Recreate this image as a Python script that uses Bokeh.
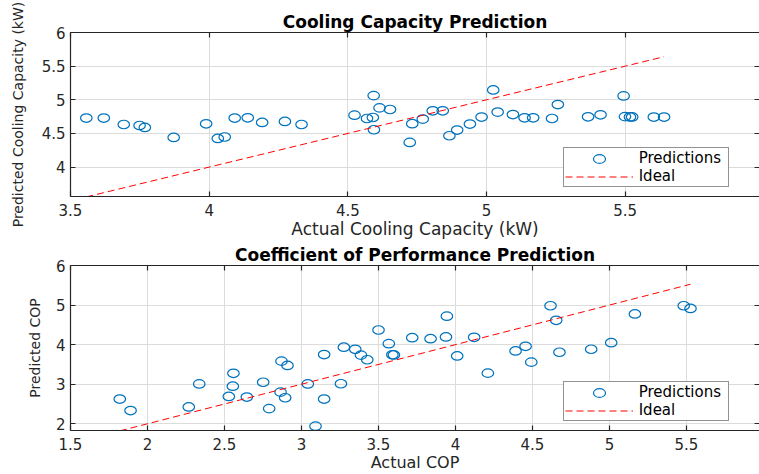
from bokeh.plotting import figure
from bokeh.models import (LinearAxis, FixedTicker, CustomJSTickFormatter, Range1d,
                          Legend, LegendItem, ColumnDataSource)
from bokeh.layouts import column
from bokeh.embed import file_html
from bokeh.resources import INLINE

# ---------------- data ----------------
cc_actual = [3.557, 3.620, 3.692, 3.749, 3.768, 3.872, 3.989, 4.031, 4.056, 4.092,
             4.139, 4.191, 4.273, 4.333, 4.524, 4.569, 4.590, 4.593, 4.594, 4.614,
             4.652, 4.723, 4.732, 4.770, 4.806, 4.842, 4.866, 4.894, 4.940, 4.982,
             5.024, 5.040, 5.095, 5.137, 5.168, 5.236, 5.257, 5.366, 5.411, 5.494,
             5.499, 5.517, 5.525, 5.603, 5.640]
cc_pred = [4.728, 4.728, 4.633, 4.618, 4.589, 4.441, 4.643, 4.426, 4.447, 4.728,
           4.732, 4.663, 4.678, 4.633, 4.772, 4.722, 4.737, 5.062, 4.555, 4.880,
           4.856, 4.367, 4.645, 4.713, 4.836, 4.836, 4.466, 4.550, 4.639, 4.743,
           5.146, 4.817, 4.781, 4.732, 4.732, 4.722, 4.929, 4.747, 4.777, 5.058,
           4.750, 4.745, 4.745, 4.743, 4.743]

cop_actual = [1.820, 1.890, 2.268, 2.336, 2.528, 2.554, 2.558, 2.645, 2.751, 2.790,
              2.864, 2.870, 2.894, 2.909, 3.041, 3.091, 3.147, 3.147, 3.256, 3.275,
              3.349, 3.386, 3.427, 3.500, 3.567, 3.590, 3.600, 3.719, 3.838, 3.938,
              3.944, 4.011, 4.121, 4.210, 4.390, 4.455, 4.492, 4.617, 4.654, 4.675,
              4.881, 5.011, 5.165, 5.482, 5.526]
cop_pred = [2.625, 2.333, 2.425, 3.008, 2.690, 2.950, 3.275, 2.675, 3.050, 2.383,
            2.800, 3.583, 2.658, 3.475, 3.008, 1.940, 3.750, 2.625, 3.012, 3.935,
            3.882, 3.735, 3.618, 4.370, 4.025, 3.745, 3.740, 4.175, 4.150, 4.195,
            4.720, 3.715, 4.185, 3.280, 3.840, 3.958, 3.558, 4.983, 4.615, 3.808,
            3.883, 4.050, 4.775, 4.983, 4.915]

cc_xticks = [3.5, 4, 4.5, 5, 5.5, 6]
cc_yticks = [4, 4.5, 5, 5.5, 6]
cop_xticks = [1.5, 2, 2.5, 3, 3.5, 4, 4.5, 5, 5.5, 6]
cop_yticks = [2, 3, 4, 5, 6]

titles = ["Cooling Capacity Prediction", "Coefficient of Performance Prediction"]
xlabels = ["Actual Cooling Capacity (kW)", "Actual COP"]
ylabels = ["Predicted Cooling Capacity (kW)", "Predicted COP"]
legend_labels = ["Predictions", "Ideal"]

FONT = "DejaVu Sans"
AX = "#262626"
BLUE = "#0072BD"
RED = "#FF0000"
GRID = "#dcdcdc"


def fmt():
    return CustomJSTickFormatter(code="return tick.toString();")


def make(title, xlabel, ylabel, actual, pred, xr, yr, xt, yt, height, top, bottom,
         ylab_standoff, xlab_size):
    p = figure(width=759, height=height, output_backend="svg", toolbar_location=None,
               x_range=Range1d(*xr), y_range=Range1d(*yr),
               min_border_left=70, min_border_right=0,
               min_border_top=top, min_border_bottom=bottom,
               x_axis_label=xlabel, y_axis_label=ylabel)
    p.outline_line_color = None
    p.background_fill_color = "white"
    p.border_fill_color = "white"

    p.title.text = title
    p.title.align = "center"
    p.title.text_font = FONT
    p.title.text_font_size = "17px"
    p.title.text_font_style = "bold"
    p.title.text_color = "black"
    p.title.standoff = 2

    for ax, ticks in ((p.xaxis[0], xt), (p.yaxis[0], yt)):
        ax.ticker = FixedTicker(ticks=ticks)
        ax.formatter = fmt()
        ax.axis_line_color = AX
        ax.axis_line_width = 1.2
        ax.major_tick_line_color = AX
        ax.major_tick_line_width = 1.2
        ax.major_tick_in = 5
        ax.major_tick_out = 0
        ax.minor_tick_line_color = None
        ax.major_label_text_font = FONT
        ax.major_label_text_font_size = "15px"
        ax.major_label_text_color = AX
        ax.axis_label_text_font = FONT
        ax.axis_label_text_font_style = "normal"
        ax.axis_label_text_color = AX
    p.xaxis[0].axis_label_text_font_size = xlab_size
    p.xaxis[0].major_label_standoff = 7
    p.xaxis[0].axis_label_standoff = 0
    p.yaxis[0].axis_label_text_font_size = "14px"
    p.yaxis[0].major_label_standoff = 5
    p.yaxis[0].axis_label_standoff = ylab_standoff

    # box edges: ticks on top and right as in the original figure
    for loc, ticks in (("above", xt), ("right", yt)):
        a = LinearAxis(ticker=FixedTicker(ticks=ticks), formatter=fmt(),
                       major_label_text_font_size="1px", major_label_text_color=None,
                       major_label_standoff=0,
                       major_tick_in=5, major_tick_out=0,
                       minor_tick_line_color=None,
                       major_tick_line_color=AX, major_tick_line_width=1.2,
                       axis_line_color=AX if loc == "above" else None,
                       axis_line_width=1.2)
        p.add_layout(a, loc)

    p.xgrid.ticker = FixedTicker(ticks=xt)
    p.ygrid.ticker = FixedTicker(ticks=yt)
    for g in (p.xgrid[0], p.ygrid[0]):
        g.grid_line_color = GRID
        g.grid_line_width = 1

    src = ColumnDataSource(dict(a=actual, p=pred))
    r_pts = p.ellipse(x="a", y="p", width=11.5, height=8.5,
                      width_units="screen", height_units="screen",
                      fill_color=None, line_color=BLUE, line_width=1.2, source=src)
    lo, hi = min(actual), max(actual)
    ideal = ColumnDataSource(dict(x=[lo, hi], y=[lo, hi]))
    r_line = p.line(x="x", y="y", source=ideal, line_color=RED, line_dash="7 4",
                    line_width=1)

    leg = Legend(items=[LegendItem(label=legend_labels[0], renderers=[r_pts]),
                        LegendItem(label=legend_labels[1], renderers=[r_line])],
                 location=(492.7, 8.7), margin=0, padding=1, spacing=0,
                 glyph_width=68, glyph_height=15, label_height=15,
                 label_standoff=6, label_width=88,
                 label_text_font=FONT, label_text_font_size="15px",
                 label_text_line_height=1.0,
                 label_text_color="black",
                 border_line_color=AX, border_line_width=1,
                 background_fill_color="white", background_fill_alpha=1)
    p.add_layout(leg)
    return p


p1 = make(titles[0], xlabels[0], ylabels[0], cc_actual, cc_pred,
          (3.5, 5.984), (3.563, 6.0), cc_xticks, cc_yticks,
          height=241, top=32, bottom=44, ylab_standoff=13, xlab_size="17px")
p2 = make(titles[1], xlabels[1], ylabels[1], cop_actual, cop_pred,
          (1.5, 5.974), (1.83, 6.0), cop_xticks, cop_yticks,
          height=233, top=23, bottom=43, ylab_standoff=10, xlab_size="16px")

layout = column(p1, p2, spacing=0)
open("out.html", "w").write(file_html(layout, INLINE))
